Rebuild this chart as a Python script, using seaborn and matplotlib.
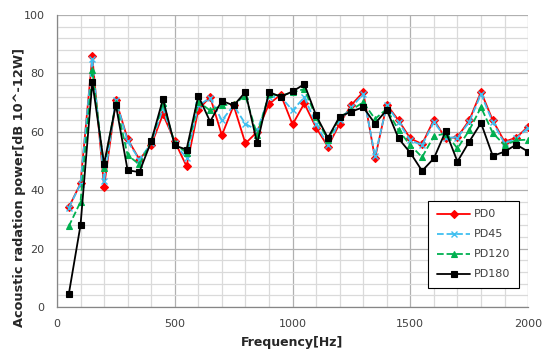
import matplotlib
matplotlib.use("Agg")
import matplotlib.pyplot as plt
from matplotlib.ticker import MultipleLocator
import seaborn as sns
import pandas as pd

freq = [50, 100, 150, 200, 250, 300, 350, 400, 450, 500,
        550, 600, 650, 700, 750, 800, 850, 900, 950, 1000,
        1050, 1100, 1150, 1200, 1250, 1300, 1350, 1400, 1450, 1500,
        1550, 1600, 1650, 1700, 1750, 1800, 1850, 1900, 1950, 2000]

pd0 = [34.1, 42.3, 85.8, 41.1, 70.8, 57.5, 50.5, 55.4, 66.0, 56.7,
       48.2, 67.5, 72.0, 58.8, 69.0, 56.0, 60.0, 69.5, 72.7, 62.5,
       69.7, 61.4, 54.9, 62.8, 69.2, 73.6, 50.9, 69.3, 63.9, 57.7,
       55.8, 64.1, 57.7, 58.2, 63.9, 73.7, 63.9, 56.6, 58.0, 61.8]

pd45 = [34.0, 42.0, 85.0, 43.0, 71.0, 56.7, 50.5, 56.0, 68.0, 56.0,
        51.0, 69.0, 71.6, 63.9, 69.0, 62.7, 60.5, 71.8, 72.0, 67.3,
        71.8, 62.7, 55.4, 63.9, 68.4, 72.9, 51.7, 69.0, 63.3, 57.1,
        55.4, 63.3, 58.0, 58.0, 63.3, 72.9, 63.3, 56.0, 57.7, 61.4]

pd120 = [27.6, 36.0, 81.0, 47.7, 70.0, 52.0, 48.8, 56.7, 69.7, 56.0,
         52.8, 70.3, 67.3, 69.0, 69.5, 72.3, 58.8, 72.9, 72.3, 73.5,
         74.6, 65.0, 57.1, 65.0, 67.5, 70.1, 64.4, 67.8, 60.5, 55.4,
         51.3, 58.5, 59.4, 54.3, 60.5, 68.4, 59.6, 55.4, 57.1, 57.3]

pd180 = [4.3, 28.0, 77.0, 49.0, 69.2, 46.8, 46.2, 56.7, 71.2, 55.3,
         53.9, 72.3, 63.5, 70.6, 69.0, 73.6, 56.0, 73.6, 72.0, 73.8,
         76.3, 65.6, 57.9, 65.2, 66.9, 68.4, 62.8, 67.5, 57.7, 52.8,
         46.6, 50.9, 60.2, 49.8, 56.6, 63.0, 51.7, 53.2, 55.6, 53.2]

series = {"PD0": pd0, "PD45": pd45, "PD120": pd120, "PD180": pd180}
styles = {
    "PD0": dict(color="#ff0000", marker="D", ls="-", ms=4.5, mew=0.8),
    "PD45": dict(color="#3fbff0", marker="x", ls="--", ms=5, mew=1.0),
    "PD120": dict(color="#00b050", marker="^", ls="--", ms=4.5, mew=0.8),
    "PD180": dict(color="#000000", marker="s", ls="-", ms=4.5, mew=0.8),
}

df = pd.DataFrame({"freq": freq, **series})
long = df.melt(id_vars="freq", var_name="series", value_name="power")

sns.set_style("white")
plt.rcParams["font.family"] = ["DejaVu Sans"]

fig = plt.figure(figsize=(5.53, 3.51), dpi=100)
ax = fig.add_axes([0.103, 0.1254, 0.852, 0.832])

for name, st in styles.items():
    sub = long[long["series"] == name]
    sns.lineplot(data=sub, x="freq", y="power", ax=ax, label=name,
                 color=st["color"], linestyle=st["ls"], marker=st["marker"],
                 markersize=st["ms"], markeredgewidth=st["mew"],
                 markeredgecolor=st["color"], linewidth=1.3)

ax.set_xlim(0, 2000)
ax.set_ylim(0, 100)
ax.xaxis.set_major_locator(MultipleLocator(500))
ax.xaxis.set_minor_locator(MultipleLocator(100))
ax.yaxis.set_major_locator(MultipleLocator(20))
ax.yaxis.set_minor_locator(MultipleLocator(4))
ax.grid(which="major", color="#b0b0b0", linewidth=0.9)
ax.grid(which="minor", color="#dadada", linewidth=0.9)
ax.set_axisbelow(True)

for s in ["top", "right"]:
    ax.spines[s].set_visible(False)
for s in ["left", "bottom"]:
    ax.spines[s].set_color("#868686")
    ax.spines[s].set_linewidth(0.9)

ax.tick_params(axis="both", which="major", direction="out", length=4,
               color="#868686", labelsize=8, labelcolor="#404040", pad=5)
ax.tick_params(axis="x", which="minor", length=0)
ax.tick_params(axis="y", which="minor", direction="out", length=2.5,
               color="#868686")

ax.set_xlabel("Frequency[Hz]", fontsize=9, fontweight="bold")
ax.xaxis.set_label_coords(0.5, -0.098)
ax.set_ylabel("Acoustic radation power[dB 10^-12W]", fontsize=9.3,
              fontweight="bold")
ax.yaxis.set_label_coords(-0.066, 0.408)

leg = ax.legend(loc="lower right", bbox_to_anchor=(0.992, 0.045),
                fontsize=8, frameon=True, fancybox=False, edgecolor="#000000",
                framealpha=1, handlelength=3, labelspacing=0.9,
                borderpad=0.8, handletextpad=0.3)
leg.get_frame().set_linewidth(0.8)
for t in leg.get_texts():
    t.set_color("#404040")

fig.savefig("out.png", dpi=100)
